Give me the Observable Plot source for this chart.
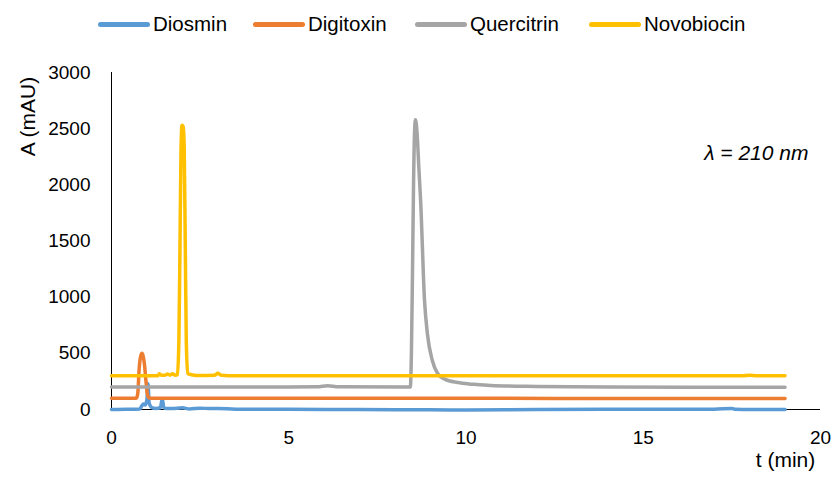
<!DOCTYPE html>
<html>
<head>
<meta charset="utf-8">
<script src="https://cdn.jsdelivr.net/npm/d3@7"></script>
<script src="https://cdn.jsdelivr.net/npm/@observablehq/plot@0.6"></script>
<style>
  html, body { margin: 0; padding: 0; background: #fff; }
  #wrap { position: relative; width: 835px; height: 481px; overflow: hidden; }
  #legend { position: relative; height: 40px; font-family: "Liberation Sans", Arial, sans-serif; font-size: 20.5px; color: #000; }
  .item { position: absolute; top: 12px; display: flex; align-items: center; height: 24px; }
  .sw { width: 52px; height: 5px; border-radius: 2.5px; margin-right: 3px; }
  .lab { white-space: nowrap; line-height: 24px; }
</style>
</head>
<body>
<div id="wrap">
  <div id="legend"></div>
  <div id="chart"></div>
</div>
<script>
// ---- data ----
const seriesNames = ["Diosmin", "Digitoxin", "Quercitrin", "Novobiocin"];
const seriesColors = ["#5B9BD5", "#ED7D31", "#A5A5A5", "#FFC000"];

const diosminT = [0, 0.4, 0.8, 0.85, 0.9, 0.95, 1.0, 1.03, 1.06, 1.1, 1.15, 1.25, 1.38, 1.43, 1.48, 1.55, 1.7, 2.0, 2.2, 2.5, 2.8, 3.0, 3.5, 5, 7, 9, 10, 12, 15, 17, 17.5, 17.6, 18, 19];
const diosminA = [0, 2, 5, 30, 50, 40, 90, 230, 60, 30, 15, 10, 15, 95, 15, 8, 8, 15, 5, 12, 8, 10, 3, 2, 0, -3, -4, 0, 2, 3, 10, 2, 0, 0];

const digitoxinT = [0, 0.7, 0.74, 0.78, 0.82, 0.86, 0.89, 0.93, 0.97, 1.01, 1.05, 1.12, 2, 5, 10, 15, 19];
const digitoxinA = [100, 100, 140, 360, 470, 500, 480, 400, 260, 140, 105, 100, 100, 100, 100, 98, 98];

const quercitrinT = [0, 2, 5, 5.8, 6.1, 6.4, 8.43, 8.46, 8.49, 8.52, 8.55, 8.575, 8.62, 8.67, 8.72, 8.83, 8.91, 9.05, 9.2, 9.4, 9.76, 10.2, 10.7, 12, 14, 19];
const quercitrinA = [200, 200, 200, 202, 212, 202, 200, 500, 1200, 2000, 2480, 2580, 2460, 2150, 1860, 970, 677, 436, 320, 270, 240, 225, 213, 205, 200, 198];

const novobiocinT = [0, 1.3, 1.35, 1.4, 1.5, 1.58, 1.65, 1.72, 1.8, 1.86, 1.9, 1.93, 1.96, 1.99, 2.02, 2.05, 2.08, 2.11, 2.15, 2.25, 2.5, 2.9, 3.0, 3.1, 3.5, 5, 10, 15, 17.8, 18, 18.2, 19];
const novobiocinA = [300, 300, 318, 305, 305, 315, 306, 318, 305, 310, 600, 1400, 2300, 2530, 2520, 2350, 1500, 600, 320, 310, 302, 305, 322, 305, 300, 300, 300, 300, 300, 306, 300, 300];

const xTicks = [0, 5, 10, 15, 20];
const yTicks = [0, 500, 1000, 1500, 2000, 2500, 3000];

// ---- build table ----
const seriesT = [diosminT, digitoxinT, quercitrinT, novobiocinT];
const seriesA = [diosminA, digitoxinA, quercitrinA, novobiocinA];
const rows = [];
seriesNames.forEach((name, i) => {
  seriesT[i].forEach((t, j) => rows.push({series: name, t, A: seriesA[i][j]}));
});

// ---- legend ----
const legend = document.getElementById("legend");
const legendX = [98, 253, 415, 589];
seriesNames.forEach((name, i) => {
  const it = document.createElement("div");
  it.className = "item";
  it.style.left = legendX[i] + "px";
  it.innerHTML = `<span class="sw" style="background:${seriesColors[i]}"></span><span class="lab">${name}</span>`;
  legend.appendChild(it);
});

// ---- chart ----
const font = "Liberation Sans, Arial, sans-serif";
const chart = Plot.plot({
  width: 835,
  height: 441,
  marginLeft: 111,
  marginRight: 15,
  marginTop: 32,
  marginBottom: 72,
  style: {fontFamily: font, fontSize: "19px", color: "#000", background: "#fff"},
  x: {domain: [0, 20], ticks: xTicks, tickSize: 0, tickPadding: 21, tickFormat: d3.format("d"), label: null},
  y: {domain: [0, 3000], ticks: yTicks, tickSize: 0, tickPadding: 21, tickFormat: d3.format("d"), label: null},
  color: {domain: seriesNames, range: seriesColors},
  marks: [
    Plot.ruleX([0], {y1: 0, y2: 3000, stroke: "#000", strokeWidth: 1}),
    Plot.ruleY([0], {x1: 0, x2: 20, stroke: "#000", strokeWidth: 1}),
    Plot.line(rows, {x: "t", y: "A", z: "series", stroke: "series", strokeWidth: 3.5, strokeLinejoin: "round", strokeLinecap: "round", curve: "monotone-x"}),
    Plot.text(["A (mAU)"], {frameAnchor: "top-left", dx: -91, dy: 44, rotate: -90, fontSize: 21, text: d => d, textAnchor: "middle", fill: "#000"}),
    Plot.text(["t (min)"], {frameAnchor: "bottom-right", dx: -35, dy: 57, fontSize: 21, text: d => d, textAnchor: "middle", fill: "#000"}),
    Plot.text(["λ = 210 nm"], {frameAnchor: "top-right", dx: -12, dy: 73, fontSize: 21, fontStyle: "italic", text: d => d, textAnchor: "end", fill: "#000"})
  ]
});
document.getElementById("chart").appendChild(chart);
</script>
</body>
</html>
